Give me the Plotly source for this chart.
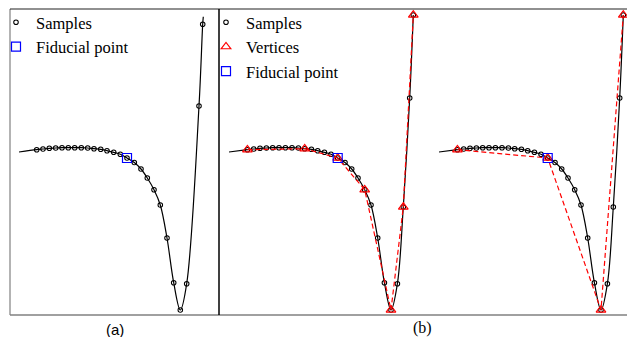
import plotly.graph_objects as go

W, H = 627, 337

# ---------------- data (x: time units, y: amplitude units) ----------------
# panel (a) samples
a_sample_x = [26.7, 33.0, 39.3, 45.7, 52.0, 58.3, 64.7, 71.3, 77.7, 84.0, 90.7, 97.0, 103.7,
              110.3, 117.0, 124.3, 131.0, 137.3, 144.0, 150.3, 157.0, 163.7, 170.3, 176.7,
              189.0, 192.7]
a_sample_y = [165.3, 166.0, 166.7, 167.0, 167.3, 167.3, 167.3, 167.3, 167.0, 166.3, 165.7, 164.3,
              162.7, 160.7, 157.0, 152.5, 146.0, 137.0, 125.3, 110.0, 77.0, 32.3, 5.0, 31.3,
              209.0, 290.7]
# continuous signal in panel (a)
a_signal_x = [9.0] + a_sample_x + [193.3]
a_signal_y = [163.0] + a_sample_y + [298.3]

# panel (b) samples
b_sample_x = [26.7, 33.0, 39.3, 45.7, 52.0, 58.3, 64.7, 71.3, 77.7, 84.0, 90.7, 97.0, 103.7,
              110.3, 117.0, 124.3, 131.0, 137.3, 144.0, 150.3, 157.0, 163.7, 170.3, 176.7,
              182.6, 189.0, 192.6]
b_sample_y = [165.3, 166.0, 166.7, 167.0, 167.3, 167.3, 167.3, 167.3, 167.0, 166.3, 165.7, 164.3,
              162.7, 160.7, 157.0, 152.5, 146.0, 137.0, 125.3, 110.0, 77.0, 32.3, 5.0, 31.3,
              108.0, 217.0, 300.0]
b_signal_x = [8.3] + b_sample_x
b_signal_y = [163.0] + b_sample_y

# polygonal approximations (vertices)
b1_vert_x = [26.7, 84.0, 117.0, 144.0, 170.3, 182.6, 192.6]
b1_vert_y = [165.3, 166.3, 157.0, 125.3, 5.0, 108.0, 300.0]
b2_vert_x = [26.7, 117.0, 170.3, 192.6]
b2_vert_y = [165.3, 157.0, 5.0, 300.0]

# fiducial point
fid_x = [117.0]
fid_y = [157.0]

panel_labels = ["(a)", "(b)"]

# ---------------- figure ----------------
fig = go.Figure()

def px2x(p):
    return p / W

def py2y(p):
    return 1 - p / H

Y_DOM = [py2y(315), py2y(9)]
axes = {
    "a": ("x", "y", [px2x(10), px2x(219)], [0, 209]),
    "b1": ("x2", "y2", [px2x(219), px2x(429)], [-1.7, 208.3]),
    "b2": ("x3", "y3", [px2x(429), 1.0], [-1.7, 196.3]),
}

sample_marker = dict(symbol="circle-open", size=4.5, color="black", line=dict(width=1.1, color="black"))
vert_marker = dict(symbol="triangle-up-open", size=8.5, color="#ff0000", line=dict(width=1.1, color="#ff0000"))
fid_marker = dict(symbol="square-open", size=9, color="#0000ff", line=dict(width=1.2, color="#0000ff"))

# panel (a)
xa, ya = axes["a"][0], axes["a"][1]
fig.add_trace(go.Scatter(x=a_signal_x, y=a_signal_y, mode="lines", line=dict(color="black", width=1.2, shape="spline"),
                         xaxis=xa, yaxis=ya, showlegend=False, hoverinfo="skip"))
fig.add_trace(go.Scatter(x=a_sample_x, y=a_sample_y, mode="markers", marker=sample_marker, name="Samples",
                         xaxis=xa, yaxis=ya, legend="legend", legendrank=1))
fig.add_trace(go.Scatter(x=fid_x, y=fid_y, mode="markers", marker=fid_marker, name="Fiducial point",
                         xaxis=xa, yaxis=ya, legend="legend", legendrank=3))

# panel (b)
for key, vx, vy, show in (("b1", b1_vert_x, b1_vert_y, True), ("b2", b2_vert_x, b2_vert_y, False)):
    xk, yk = axes[key][0], axes[key][1]
    fig.add_trace(go.Scatter(x=b_signal_x, y=b_signal_y, mode="lines", line=dict(color="black", width=1.2, shape="spline"),
                             xaxis=xk, yaxis=yk, showlegend=False, hoverinfo="skip"))
    fig.add_trace(go.Scatter(x=b_sample_x, y=b_sample_y, mode="markers", marker=sample_marker, name="Samples",
                             xaxis=xk, yaxis=yk, legend="legend2", legendrank=1, showlegend=show))
    fig.add_trace(go.Scatter(x=vx, y=vy, mode="lines", line=dict(color="#ff0000", width=1.2, dash="5px,3px"),
                             xaxis=xk, yaxis=yk, showlegend=False, hoverinfo="skip"))
    fig.add_trace(go.Scatter(x=vx, y=vy, mode="markers", marker=vert_marker, name="Vertices",
                             xaxis=xk, yaxis=yk, legend="legend2", legendrank=2, showlegend=show))
    fig.add_trace(go.Scatter(x=fid_x, y=fid_y, mode="markers", marker=fid_marker, name="Fiducial point",
                             xaxis=xk, yaxis=yk, legend="legend2", legendrank=3, showlegend=show))

layout_axes = {}
for i, (key, (xk, yk, dom, rng)) in enumerate(axes.items()):
    xname = "xaxis" if xk == "x" else "xaxis" + xk[1:]
    yname = "yaxis" if yk == "y" else "yaxis" + yk[1:]
    layout_axes[xname] = dict(domain=dom, range=rng, visible=False, fixedrange=True)
    layout_axes[yname] = dict(domain=Y_DOM, range=[0, 306], visible=False, fixedrange=True,
                              anchor=xk)
    layout_axes[xname]["anchor"] = yk

legend_font = dict(family="Liberation Serif", size=16.5, color="black")
fig.update_layout(
    width=W, height=H,
    margin=dict(l=0, r=0, t=0, b=0, autoexpand=False),
    paper_bgcolor="white", plot_bgcolor="white",
    showlegend=True,
    legend=dict(x=px2x(-4), y=py2y(5), xanchor="left", yanchor="top", bgcolor="rgba(0,0,0,0)",
                font=legend_font, itemwidth=30, tracegroupgap=0),
    legend2=dict(x=px2x(206), y=py2y(5), xanchor="left", yanchor="top", bgcolor="rgba(0,0,0,0)",
                 font=legend_font, itemwidth=30, tracegroupgap=0),
    **layout_axes,
)

# frame lines
frame = [
    (10, 315, 627, 315, "#808080", 1.5),   # bottom
    (10, 9, 10, 315, "#808080", 1.2),      # left of (a)
    (10, 9, 627, 9, "#222222", 1.2),       # top
    (219, 9, 219, 315, "#000000", 1.5),    # divider
]
for x0, y0, x1, y1, c, w in frame:
    fig.add_shape(type="line", xref="paper", yref="paper", x0=px2x(x0), y0=py2y(y0), x1=px2x(x1), y1=py2y(y1),
                  line=dict(color=c, width=w))

fig.add_annotation(text=panel_labels[0], xref="paper", yref="paper", x=px2x(115), y=py2y(329),
                   showarrow=False, font=dict(family="Liberation Sans", size=15, color="black"),
                   xanchor="center", yanchor="middle")
fig.add_annotation(text=panel_labels[1], xref="paper", yref="paper", x=px2x(422), y=py2y(328),
                   showarrow=False, font=dict(family="Liberation Serif", size=16, color="black"),
                   xanchor="center", yanchor="middle")

fig.write_html("out.html")
